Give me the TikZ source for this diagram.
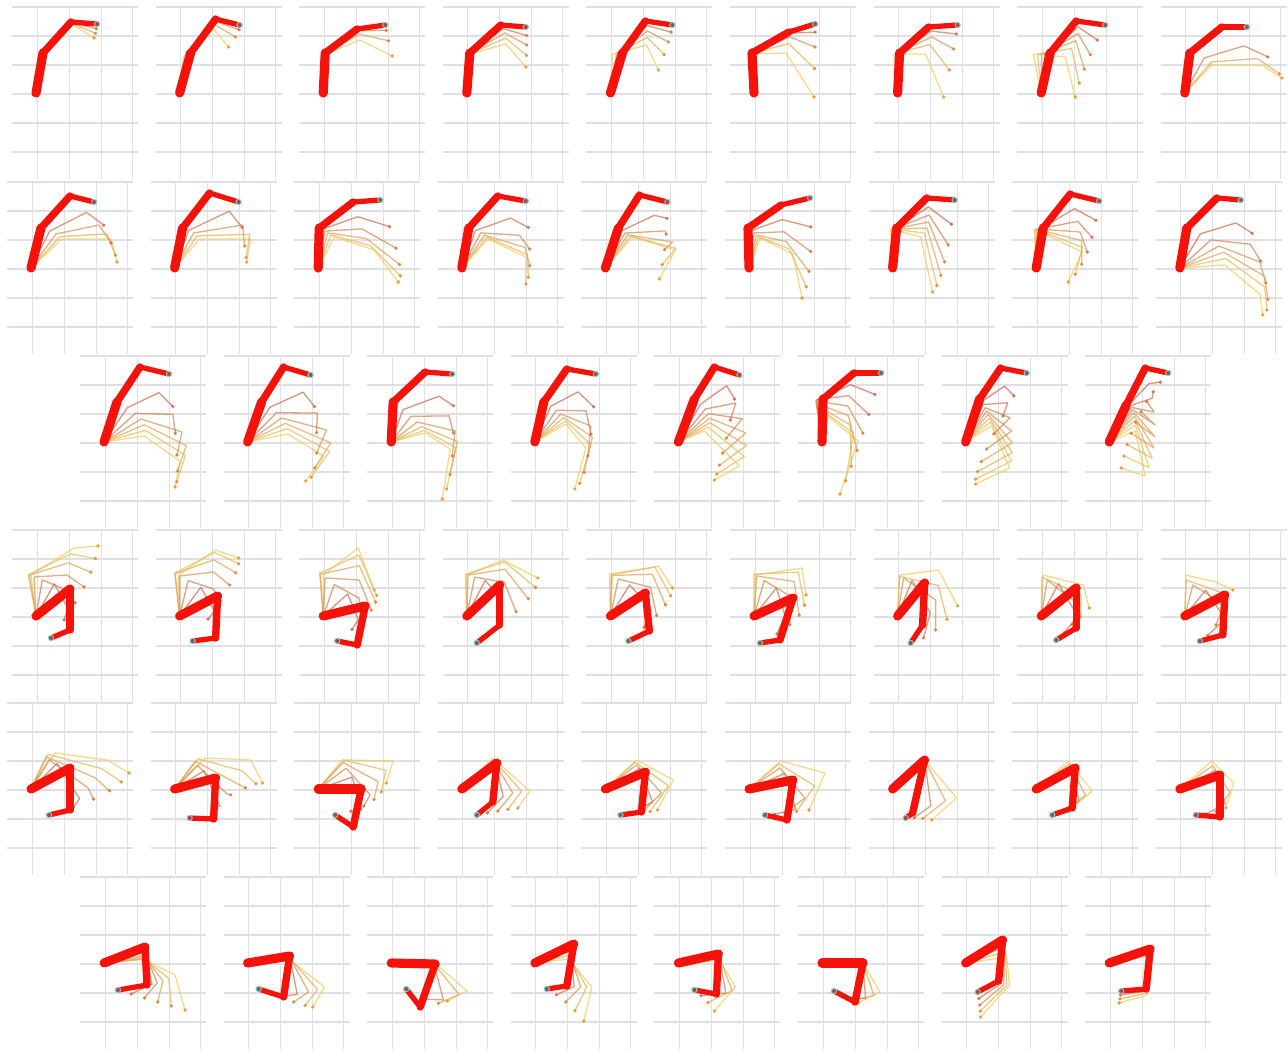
\documentclass[tikz,border=0pt]{standalone}
\usetikzlibrary{calc}

\definecolor{armred}{RGB}{245,18,10}
\definecolor{ghostred}{RGB}{190,84,70}
\definecolor{ghostyel}{RGB}{240,205,90}
\definecolor{gridgray}{RGB}{224,224,228}
\definecolor{goalgreen}{RGB}{120,220,170}
\definecolor{tipviolet}{RGB}{120,80,190}

\tikzset{
  gridh/.style={gridgray, line width=1pt},
  gridv/.style={gridgray, line width=0.5pt},
  ghostline/.style={line width=0.75pt, opacity=0.7, line join=round},
  armlink/.style={armred, line cap=round, line join=round},
}

% one frame: #1 x0, #2 top, #3 final arm, #4 middle ghost, #5 first ghost, #6 ghosts
\newcommand\armpanel[6]{%
  \begin{scope}[shift={(#1,#2)}]
    % grid
    \foreach \gy in {0,29,58,87,116,145} \draw[gridh] (0,\gy) -- (126,\gy);
    \foreach \gx in {25,57,89,120} \draw[gridv] (\gx,0) -- (\gx,172);
    \def\redA{{#3}}\def\midA{{#4}}\def\iniA{{#5}}
    \coordinate (b) at (24,86);
    % ghosts
    \pgfmathtruncatemacro\gn{#6-1}
    \foreach \k in {0,...,\gn}{
      \pgfmathsetmacro\gpos{\k/#6}
      \pgfmathsetmacro\wA{(1-\gpos)*(1-2*\gpos)}
      \pgfmathsetmacro\wB{4*\gpos*(1-\gpos)}
      \pgfmathsetmacro\wC{\gpos*(2*\gpos-1)}
      \pgfmathsetmacro\gAx{\wA*\iniA[0]+\wB*\midA[0]+\wC*\redA[0]}
      \pgfmathsetmacro\gAy{\wA*\iniA[1]+\wB*\midA[1]+\wC*\redA[1]}
      \pgfmathsetmacro\gBx{\wA*\iniA[2]+\wB*\midA[2]+\wC*\redA[2]}
      \pgfmathsetmacro\gBy{\wA*\iniA[3]+\wB*\midA[3]+\wC*\redA[3]}
      \pgfmathsetmacro\gCx{\wA*\iniA[4]+\wB*\midA[4]+\wC*\redA[4]}
      \pgfmathsetmacro\gCy{\wA*\iniA[5]+\wB*\midA[5]+\wC*\redA[5]}
      \pgfmathtruncatemacro\cp{100*\gpos}
      \coordinate (ga) at (\gAx,\gAy);
      \coordinate (gb) at (\gBx,\gBy);
      \coordinate (gc) at (\gCx,\gCy);
      \draw[ghostline, draw=ghostred!\cp!ghostyel] (b) -- (ga) -- (gb) -- (gc);
      \fill[ghostred!\cp!orange, opacity=0.8] (gc) circle (1.8);
    }
    % arm
    \pgfmathsetmacro\rAx{\redA[0]}\pgfmathsetmacro\rAy{\redA[1]}
    \pgfmathsetmacro\rBx{\redA[2]}\pgfmathsetmacro\rBy{\redA[3]}
    \pgfmathsetmacro\rCx{\redA[4]}\pgfmathsetmacro\rCy{\redA[5]}
    \coordinate (j1) at (\rAx,\rAy);
    \coordinate (j2) at (\rBx,\rBy);
    \coordinate (e) at (\rCx,\rCy);
    \draw[armlink, line width=5.2pt] (b) -- (j1);
    \draw[armlink, line width=4.2pt] (j1) -- (j2);
    \draw[armlink, line width=3pt] (j2) -- (e);
    \draw[goalgreen, line width=0.6pt] (e) circle (2.6);
    \fill[tipviolet] (e) circle (1.5);
  \end{scope}}

\begin{document}
\begin{tikzpicture}[x=0.02cm, y=-0.02cm]

  \useasboundingbox[fill=white] (0,0) rectangle (1288,1051);

  % Row 1
  \armpanel{12}{7}{31,46,59,15,85,17}{31,46,60,16,84,24}{31,46,60,17,82,31}{3}
  \armpanel{155.6}{7}{35,46,60,12,84,18}{33,47,60,16,82,26}{28,50,58,22,73,40}{3}
  \armpanel{299.2}{7}{26,46,58,22,86,18}{25,46,60,25,88,28}{26,47,61,33,93,49}{3}
  \armpanel{442.8}{7}{27,46,58,18,83,20}{27,46,62,26,84,38}{27,47,63,37,83,60}{4}
  \armpanel{586.4}{7}{36,46,59,14,86,18}{33,46,61,24,82,35}{26,47,60,38,72,63}{4}
  \armpanel{730}{7}{22,46,59,25,85,17}{22,46,60,30,85,40}{22,47,56,46,84,90}{4}
  \armpanel{873.6}{7}{26,46,55,20,84,18}{24,46,58,30,80,42}{20,47,52,47,70,90}{4}
  \armpanel{1017.2}{7}{33,46,59,14,88,18}{26,47,60,30,70,55}{16,47,48,50,58,90}{5}
  \armpanel{1160.8}{7}{29,46,61,20,86,20}{48,53,91,46,114,60}{51,58,101,58,121,71}{3}

  % Row 2
  \armpanel{7}{182}{34,46,63,14,87,20}{49,52,92,43,104,61}{55,57,104,57,110,80}{4}
  \armpanel{150.6}{182}{32,46,59,11,88,20}{43,51,92,43,94,64}{49,57,100,57,96,80}{4}
  \armpanel{294.2}{182}{25,46,59,20,86,18}{32,50,70,52,104,75}{40,55,80,68,104,100}{5}
  \armpanel{437.8}{182}{31,46,60,14,88,19}{45,52,85,60,92,76}{50,57,88,75,88,102}{5}
  \armpanel{581.4}{182}{37,46,58,13,86,20}{45,52,88,55,84,60}{51,55,94,68,78,97}{5}
  \armpanel{725}{182}{23,46,56,23,85,16}{30,52,60,55,85,80}{35,56,68,72,77,116}{5}
  \armpanel{868.6}{182}{28,46,58,16,86,18}{25,47,60,40,76,80}{22,47,52,55,64,110}{6}
  \armpanel{1012.2}{182}{31,46,58,12,87,19}{26,47,68,50,75,70}{22,47,70,70,56,100}{6}
  \armpanel{1155.8}{182}{31,46,61,16,85,18}{63,64,104,80,110,101}{69,83,104,112,107,133}{6}

  % Row 3
  \armpanel{80}{356}{37,46,60,11,89,18}{61,63,102,76,97,99}{64,80,100,105,95,131}{6}
  \armpanel{223.6}{356}{38,46,60,11,87,19}{58,62,103,74,93,97}{64,78,100,100,82,125}{6}
  \armpanel{367.2}{356}{26,46,58,16,85,18}{50,66,88,75,85,100}{58,77,83,93,75,143}{6}
  \armpanel{510.8}{356}{33,46,56,13,85,18}{50,58,80,70,77,100}{55,68,75,92,64,133}{6}
  \armpanel{654.4}{356}{40,43,60,11,85,19}{55,60,90,70,70,90}{50,75,85,110,60,124}{7}
  \armpanel{798}{356}{25,43,56,17,83,17}{18,46,50,55,62,86}{30,60,60,85,42,138}{7}
  \armpanel{941.6}{356}{38,43,59,12,85,17}{45,55,70,75,45,93}{50,70,68,112,34,128}{8}
  \armpanel{1085.2}{356}{41,49,60,12,83,17}{48,55,70,75,53,61}{50,75,60,120,36,112}{9}

  % Row 4
  \armpanel{12}{530}{58,59,58,100,39,108}{22,47,55,45,72,57}{19,45,62,18,86,16}{6}
  \armpanel{155.6}{530}{62,66,60,108,37,111}{24,46,58,42,74,55}{23,45,60,20,83,28}{6}
  \armpanel{299.2}{530}{66,76,58,115,38,111}{26,48,60,50,72,80}{24,45,59,18,75,60}{6}
  \armpanel{442.8}{530}{57,55,57,95,34,113}{28,46,62,45,80,75}{24,45,60,30,95,48}{5}
  \armpanel{586.4}{530}{59,63,63,101,42,111}{28,47,65,50,75,80}{26,45,72,36,86,58}{5}
  \armpanel{730}{530}{63,68,50,110,30,113}{30,48,62,58,65,90}{26,45,72,38,76,65}{5}
  \armpanel{873.6}{530}{51,53,49,95,37,113}{30,48,62,70,62,100}{26,45,65,40,84,76}{4}
  \armpanel{1017.2}{530}{59,58,59,98,39,110}{30,50,62,75,55,95}{26,45,66,55,72,78}{4}
  \armpanel{1160.8}{530}{64,65,62,105,39,111}{32,55,64,75,55,95}{25,45,55,52,72,60}{4}

  % Row 5
  \armpanel{7}{703}{63,65,63,107,42,112}{40,55,85,80,95,92}{48,50,100,57,122,70}{5}
  \armpanel{150.6}{703}{65,75,63,116,39,115}{45,60,80,85,88,88}{55,55,100,57,112,80}{5}
  \armpanel{294.2}{703}{67,86,59,124,41,112}{50,62,80,85,75,100}{51,57,99,58,92,80}{5}
  \armpanel{437.8}{703}{59,60,55,99,39,112}{56,58,75,90,60,108}{55,55,92,88,80,105}{4}
  \armpanel{581.4}{703}{64,69,60,109,39,112}{55,62,80,90,60,110}{55,57,92,77,76,107}{4}
  \armpanel{725}{703}{68,77,62,117,40,112}{55,65,80,95,60,110}{56,58,100,70,84,107}{4}
  \armpanel{868.6}{703}{56,57,44,110,37,115}{56,57,70,100,50,115}{56,57,88,95,63,117}{3}
  \armpanel{1012.2}{703}{63,65,60,105,40,112}{58,62,70,95,48,110}{56,58,80,88,56,108}{3}
  \armpanel{1155.8}{703}{64,72,64,114,40,112}{58,65,72,95,55,110}{56,58,78,80,70,105}{3}

  % Row 6
  \armpanel{80}{877}{65,70,67,108,38,113}{66,80,80,105,71,123}{63,82,95,98,105,133}{5}
  \armpanel{223.6}{877}{66,79,60,120,35,112}{66,80,85,115,70,125}{65,82,101,110,89,130}{4}
  \armpanel{367.2}{877}{68,87,53,130,39,112}{66,86,85,120,65,125}{65,84,100,114,80,124}{3}
  \armpanel{510.8}{877}{63,67,56,109,36,112}{58,75,70,110,55,125}{58,82,81,110,73,144}{4}
  \armpanel{654.4}{877}{64,77,62,117,40,113}{65,80,75,115,50,122}{66,84,81,110,60,134}{3}
  \armpanel{798}{877}{65,86,57,125,36,114}{65,86,72,120,50,122}{65,86,82,115,60,126}{3}
  \armpanel{941.6}{877}{61,63,57,104,36,115}{63,70,62,108,38,128}{65,80,68,108,39,140}{4}
  \armpanel{1085.2}{877}{65,72,61,112,36,114}{65,75,62,115,35,120}{66,78,62,118,34,126}{3}

\end{tikzpicture}
\end{document}
